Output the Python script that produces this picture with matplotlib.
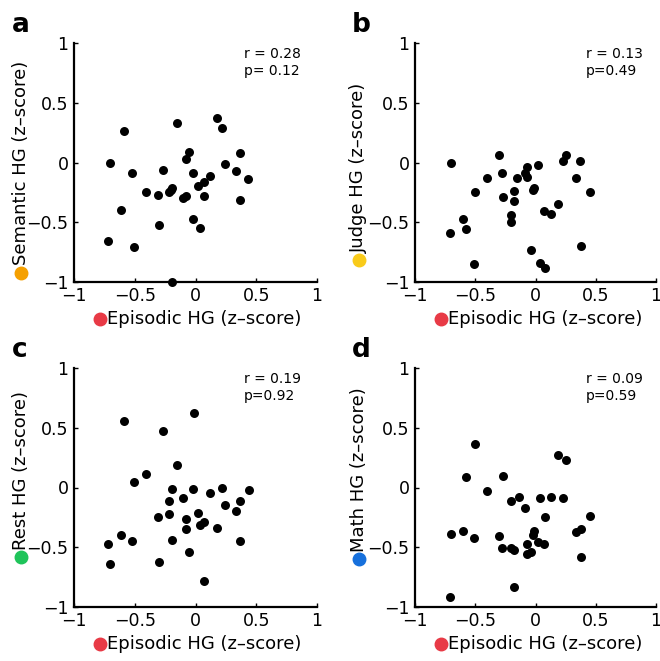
import matplotlib
matplotlib.use("Agg")
import matplotlib.pyplot as plt

plt.rcParams['font.family'] = ['DejaVu Sans']

# x values (Episodic HG) and y values per panel
x_a = [-0.70, -0.59, -0.52, -0.61, -0.72, -0.51, -0.41, -0.31, -0.30, -0.27, -0.22,
       -0.20, -0.19, -0.15, -0.19, -0.10, -0.08, -0.08, -0.05, -0.02, -0.02, 0.02,
       0.04, 0.07, 0.07, 0.12, 0.18, 0.22, 0.24, 0.33, 0.37, 0.43, 0.37]
y_a = [0.00, 0.26, -0.09, -0.40, -0.66, -0.71, -0.25, -0.27, -0.52, -0.06, -0.25,
       -0.23, -0.21, 0.33, -1.00, -0.30, -0.28, 0.03, 0.09, -0.09, -0.47, -0.20,
       -0.55, -0.16, -0.28, -0.11, 0.37, 0.29, -0.01, -0.07, 0.08, -0.14, -0.31]

x_b = [-0.70, -0.71, -0.60, -0.58, -0.51, -0.50, -0.40, -0.30, -0.28, -0.27, -0.20,
       -0.20, -0.18, -0.18, -0.15, -0.09, -0.07, -0.07, -0.01, -0.02, -0.04, 0.02,
       0.04, 0.08, 0.07, 0.13, 0.19, 0.23, 0.25, 0.34, 0.37, 0.38, 0.45]
y_b = [0.00, -0.59, -0.47, -0.56, -0.85, -0.25, -0.13, 0.06, -0.09, -0.29, -0.44,
       -0.50, -0.24, -0.32, -0.13, -0.09, -0.04, -0.12, -0.21, -0.23, -0.73, -0.02,
       -0.84, -0.88, -0.41, -0.43, -0.35, 0.01, 0.06, -0.13, 0.01, -0.70, -0.25]

x_c = [-0.59, -0.27, -0.01, -0.15, -0.41, -0.51, -0.72, -0.70, -0.61, -0.52, -0.31,
       -0.30, -0.22, -0.22, -0.19, -0.19, -0.10, -0.08, -0.08, -0.05, -0.02, 0.02,
       0.04, 0.07, 0.07, 0.12, 0.18, 0.22, 0.24, 0.33, 0.37, 0.37, 0.44]
y_c = [0.56, 0.47, 0.62, 0.19, 0.11, 0.05, -0.47, -0.64, -0.40, -0.45, -0.25,
       -0.62, -0.22, -0.11, -0.01, -0.44, -0.09, -0.26, -0.35, -0.54, -0.01, -0.21,
       -0.31, -0.29, -0.78, -0.05, -0.34, 0.00, -0.15, -0.20, -0.11, -0.45, -0.02]

x_d = [-0.50, -0.58, -0.27, -0.40, -0.70, -0.60, -0.51, -0.71, -0.30, -0.28, -0.20,
       -0.14, -0.20, -0.18, -0.18, -0.09, -0.07, -0.07, -0.04, -0.01, -0.02, 0.02,
       0.07, 0.04, 0.08, 0.13, 0.19, 0.25, 0.23, 0.34, 0.38, 0.38, 0.45]
y_d = [0.36, 0.09, 0.10, -0.03, -0.39, -0.36, -0.42, -0.92, -0.41, -0.51, -0.11,
       -0.08, -0.51, -0.52, -0.83, -0.17, -0.47, -0.56, -0.54, -0.36, -0.40, -0.46,
       -0.47, -0.09, -0.25, -0.08, 0.27, 0.23, -0.09, -0.37, -0.35, -0.58, -0.24]

letters = ['a', 'b', 'c', 'd']
ylabels = ['Semantic HG (z–score)', 'Judge HG (z–score)',
           'Rest HG (z–score)', 'Math HG (z–score)']
xlabel = 'Episodic HG (z–score)'
stats = ['r = 0.28\np= 0.12', 'r = 0.13\np=0.49', 'r = 0.19\np=0.92', 'r = 0.09\np=0.59']
ycolors = ['#f5a000', '#f9cb1a', '#1fc45a', '#1670dc']
xcolor = '#e83a46'
ticks = [-1, -0.5, 0, 0.5, 1]
ticklabels = ['\u22121', '\u22120.5', '0', '0.5', '1']

xs = [x_a, x_b, x_c, x_d]
ys = [y_a, y_b, y_c, y_d]

fig = plt.figure(figsize=(6.6, 6.61), dpi=100)
W, H = 660, 661
# axes boxes in pixels: left, top, right, bottom
boxes = [(74, 43, 317, 282), (415, 43, 656, 282),
         (74, 368, 317, 607), (415, 368, 656, 607)]
# ylabel placement: x pixel of label center, y pixel where text starts, dot y pixel
ylab_pos = [(21, 265, 273), (359, 253, 260), (21, 550, 557), (359, 552, 559)]
letter_pos = [(12, 32), (352, 32), (12, 357), (352, 357)]

for i in range(4):
    l, t, r, b = boxes[i]
    w, h = r - l, b - t
    ax = fig.add_axes([l / W, 1 - b / H, w / W, h / H])
    ax.scatter(xs[i], ys[i], s=42, color='black', clip_on=False, zorder=3, linewidths=0)
    ax.set_xlim(-1, 1)
    ax.set_ylim(-1, 1)
    ax.set_xticks(ticks)
    ax.set_yticks(ticks)
    ax.set_xticklabels(ticklabels)
    ax.set_yticklabels(ticklabels)
    for s in ['top', 'right']:
        ax.spines[s].set_visible(False)
    for s in ['left', 'bottom']:
        ax.spines[s].set_linewidth(1.6)
    ax.tick_params(direction='in', length=3, width=1, labelsize=12.5)
    ax.tick_params(axis='x', pad=3.5)
    ax.tick_params(axis='y', pad=4)

    ax.text(0.70 if i % 2 == 0 else 0.71, 0.985, stats[i], transform=ax.transAxes,
            ha='left', va='top', fontsize=10, linespacing=1.35)

    # x label with colored dot
    ax.plot([26 / w], [-37 / h], 'o', ms=9, color=xcolor,
            transform=ax.transAxes, clip_on=False)
    ax.text(33 / w, -37 / h, xlabel, transform=ax.transAxes,
            ha='left', va='center', fontsize=13)

    # y label with colored dot
    lx, ly, dy = ylab_pos[i]
    ax.plot([(lx - l) / w], [(b - dy) / h], 'o', ms=9, color=ycolors[i],
            transform=ax.transAxes, clip_on=False)
    ax.text((lx - l) / w, (b - ly) / h, ylabels[i], transform=ax.transAxes,
            rotation=90, ha='center', va='bottom', fontsize=13)

    lxp, lyp = letter_pos[i]
    fig.text(lxp / W, 1 - lyp / H, letters[i], fontsize=19, fontweight='bold',
             ha='left', va='baseline')

fig.savefig('out.png', dpi=100)
